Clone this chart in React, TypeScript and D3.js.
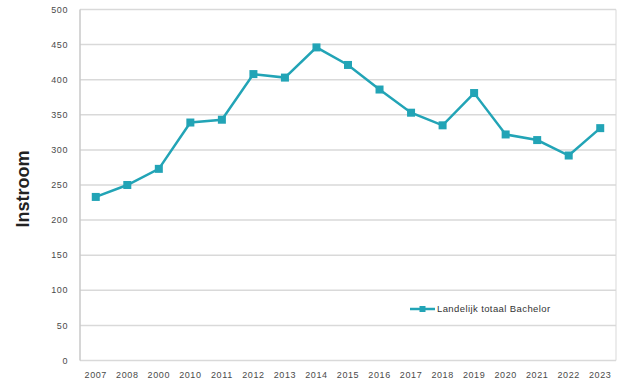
import React from 'react';
import * as d3 from 'd3';

const years = ['2007', '2008', '2009', '2010', '2011', '2012', '2013', '2014', '2015', '2016', '2017', '2018', '2019', '2020', '2021', '2022', '2023'];
const yearLabels = ['2007', '2008', '2000', '2010', '2011', '2012', '2013', '2014', '2015', '2016', '2017', '2018', '2019', '2020', '2021', '2022', '2023'];
const instroom = [233, 250, 273, 339, 343, 408, 403, 446, 421, 386, 353, 335, 381, 322, 314, 292, 331];
const yTicks = [0, 50, 100, 150, 200, 250, 300, 350, 400, 450, 500];
const seriesName = 'Landelijk totaal Bachelor';

const App = () => {
  const width = 622;
  const height = 381;
  const left = 80;
  const right = 616;
  const top = 9.5;
  const bottom = 360.5;
  const lineColor = '#22a4b6';
  const font = 'Liberation Sans, Arial, sans-serif';

  const x = d3.scalePoint<string>().domain(years).range([left, right]).padding(0.5);
  const y = d3.scaleLinear().domain([0, 500]).range([bottom, top]);

  const line = d3
    .line<number>()
    .x((_, i) => x(years[i]) as number)
    .y((d) => y(d));

  return (
    <svg width={width} height={height} style={{ position: 'absolute', left: 0, top: 0, background: '#fff' }}>
      {/* rasterlijnen */}
      {yTicks.map((t) => (
        <line key={t} x1={left} x2={right} y1={y(t)} y2={y(t)} stroke="#d9d9d9" strokeWidth={1.5} />
      ))}
      <line x1={left} x2={left} y1={top} y2={bottom} stroke="#c8c8c8" strokeWidth={1.5} />
      <line x1={right} x2={right} y1={top} y2={bottom} stroke="#d9d9d9" strokeWidth={1} />

      {yTicks.map((t) => (
        <text key={t} x={68} y={y(t)} dy="0.35em" textAnchor="end" fontSize={9} letterSpacing={0.6} fontFamily={font} fill="#4a4a4a">
          {t}
        </text>
      ))}
      {years.map((yr, i) => (
        <text key={yr} x={x(yr)} y={375} dy="0.35em" textAnchor="middle" fontSize={9} letterSpacing={0.6} fontFamily={font} fill="#4a4a4a">
          {yearLabels[i]}
        </text>
      ))}

      <text
        transform={`translate(23, 189) rotate(-90)`}
        textAnchor="middle"
        dy="0.35em"
        fontSize={18}
        fontWeight="bold"
        fontFamily={font}
        fill="#222"
      >
        Instroom
      </text>

      {/* lijn */}
      <path d={line(instroom) || ''} fill="none" stroke={lineColor} strokeWidth={2.5} />
      {instroom.map((v, i) => (
        <rect key={i} x={(x(years[i]) as number) - 4} y={y(v) - 4} width={8} height={8} fill={lineColor} />
      ))}

      {/* legenda */}
      <line x1={410} x2={435} y1={309} y2={309} stroke={lineColor} strokeWidth={2.5} />
      <rect x={419.5} y={306} width={6} height={6} fill={lineColor} />
      <text x={437} y={309} dy="0.35em" fontSize={9.5} letterSpacing={0.4} fontFamily={font} fill="#333">
        {seriesName}
      </text>
    </svg>
  );
};

export default App;
